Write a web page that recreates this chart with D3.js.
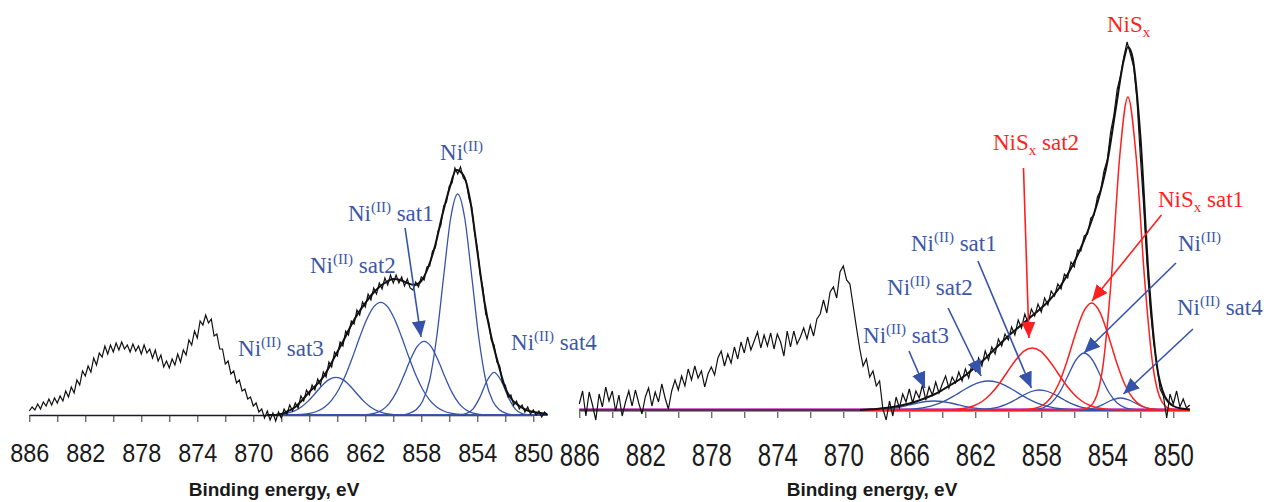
<!DOCTYPE html>
<html>
<head>
<meta charset="utf-8">
<script src="https://cdn.jsdelivr.net/npm/d3@7"></script>
<style>
  body { margin: 0; background: #fff; }
  svg { display: block; }
</style>
</head>
<body>
<svg id="chart" width="1268" height="502"></svg>
<script>
// ---- data (binding energy in eV, intensity in arbitrary units) ----

// raw spectra are sampled every 0.2 eV from 886.0 down to 849.0
const rawEnergy = d3.range(0, 186).map(i => +(886 - i * 0.2).toFixed(1));

const leftRaw = [
  0.4, 0.8, 0.5, 1.1, 0.6, 1.3, 0.9, 1.6, 1.0, 1.7,
  1.2, 1.9, 1.4, 2.4, 1.8, 2.8, 2.2, 3.5, 3.0, 4.4,
  3.9, 4.9, 4.3, 5.7, 5.0, 6.2, 5.8, 6.9, 6.1, 7.0,
  6.3, 7.2, 6.5, 7.3, 6.6, 7.0, 6.3, 7.1, 6.4, 6.9,
  6.1, 7.0, 6.2, 6.6, 5.7, 6.5, 5.4, 6.0, 4.8, 5.4,
  4.7, 5.6, 5.0, 6.1, 5.3, 6.5, 6.0, 7.5, 7.0, 8.4,
  7.7, 9.4, 9.0, 10.0, 9.2, 9.6, 7.9, 8.1, 6.6, 6.6,
  5.1, 5.4, 4.1, 4.4, 3.2, 3.5, 2.4, 2.6, 1.6, 1.8,
  0.9, 1.2, 0.3, 0.6, -0.3, 0.4, -0.5, 0.2, -0.6, 0.3,
  -0.3, 0.6, 0.1, 1.0, 0.4, 1.2, 0.7, 1.9, 1.4, 2.5,
  2.0, 3.0, 2.5, 3.6, 3.0, 4.3, 3.8, 5.3, 4.8, 6.3,
  5.9, 7.3, 6.9, 8.4, 8.0, 9.4, 9.1, 10.5, 10.0, 11.3,
  10.8, 12.1, 11.5, 12.7, 12.1, 13.2, 12.6, 13.7, 13.0, 14.0,
  13.2, 14.0, 13.2, 13.8, 12.9, 13.6, 12.7, 12.5, 13.3, 12.8,
  13.8, 13.5, 14.8, 14.9, 16.4, 16.7, 18.4, 19.0, 20.9, 21.3,
  22.9, 23.2, 24.7, 24.1, 24.8, 23.7, 23.4, 21.7, 20.8, 18.3,
  16.7, 14.1, 12.7, 10.1, 9.4, 7.5, 7.0, 5.3, 4.9, 3.2,
  3.0, 1.8, 2.0, 1.0, 1.4, 0.6, 1.0, 0.3, 0.8, 0.1,
  0.5, 0.0, 0.4, -0.2, 0.3, 0.0
];

const rightRaw = [
  0.6, 1.9, -0.6, 1.8, 0.5, -1.0, 1.6, 0.3, 2.3, 0.9,
  1.9, -0.1, 1.5, -0.6, 0.8, 1.9, 0.4, 2.0, 0.7, -0.4,
  1.3, 2.2, 0.4, 1.8, 0.8, 2.6, 1.2, 0.1, 1.9, 3.0,
  2.0, 3.4, 2.4, 4.1, 3.0, 4.4, 3.2, 3.9, 2.3, 3.6,
  4.3, 3.5, 5.2, 5.9, 4.4, 5.6, 4.7, 6.3, 5.1, 6.8,
  5.7, 7.3, 6.0, 6.9, 7.8, 6.2, 7.5, 6.4, 7.7, 6.1,
  7.6, 6.8, 5.4, 7.9, 6.3, 7.9, 6.6, 7.3, 8.2, 7.1,
  8.5, 7.4, 9.1, 9.6, 11.0, 9.7, 11.8, 12.3, 11.2, 13.8,
  14.4, 13.0, 12.6, 10.4, 8.2, 6.1, 4.4, 5.1, 3.3, 3.9,
  2.4, 2.9, 0.1, -1.0, 0.9, -0.6, 1.3, 0.2, 1.6, 0.8,
  2.1, 0.7, 1.9, 1.2, 2.5, 1.0, 2.3, 1.5, 2.8, 1.7,
  2.6, 3.4, 2.2, 3.3, 2.7, 3.8, 2.9, 4.1, 3.2, 4.6,
  3.9, 5.2, 4.4, 5.9, 5.0, 6.3, 5.6, 7.1, 6.4, 7.6,
  7.0, 8.3, 7.5, 9.0, 8.2, 9.6, 8.7, 10.1, 9.4, 10.6,
  9.8, 11.2, 10.5, 11.9, 11.4, 12.6, 12.1, 13.6, 13.2, 14.8,
  14.3, 16.0, 15.9, 17.4, 17.6, 19.2, 19.5, 21.3, 22.0, 23.9,
  25.0, 27.8, 29.5, 32.1, 33.4, 35.3, 36.8, 35.6, 34.3, 31.0,
  25.4, 20.5, 14.8, 10.2, 6.9, 4.6, 2.1, 1.4, -0.8, 1.6,
  0.6, 1.9, 0.3, 1.1, 0.2, 0.5
];

// fit envelopes
const leftFitE = d3.range(0, 41).map(i => 869 - i * 0.5);
const leftEnvelope = [
  0.0, 0.0, 0.1, 0.4, 0.8, 1.5, 2.3, 3.0, 3.8, 5.0,
  6.3, 7.6, 9.0, 10.2, 11.2, 12.1, 12.8, 13.3, 13.6, 13.5,
  13.2, 13.0, 13.4, 14.8, 17.0, 20.0, 22.6, 24.5, 24.0, 21.4,
  16.4, 11.4, 7.8, 5.1, 2.7, 1.5, 0.9, 0.5, 0.3, 0.2, 0.1
];
const rightFitE = [869, 868.5, 868, 867.5, 867, 866.5, 866, 865.5, 865, 864.5,
  864, 863.5, 863, 862.5, 862, 861.5, 861, 860.5, 860, 859.5,
  859, 858.5, 858, 857.5, 857, 856.5, 856, 855.5, 855, 854.5,
  854, 853.5, 853, 852.75, 852.5, 852, 851.5, 851, 850.5, 850, 849.5, 849];
const rightEnvelope = [0.0, 0.05, 0.1, 0.2, 0.3, 0.45, 0.65, 0.9, 1.2, 1.55,
  2.0, 2.5, 3.0, 3.6, 4.3, 5.0, 5.8, 6.6, 7.4, 8.1,
  8.8, 9.5, 10.2, 11.0, 12.0, 13.3, 14.8, 16.6, 18.7, 21.3,
  24.8, 30.0, 35.0, 36.3, 35.5, 27.5, 13.5, 4.5, 1.3, 0.4, 0.15, 0.05];

// background under the right spectrum
const rightBackground = [[886, 0], [849, 0]];

// fitted components, [energy, intensity]
const leftNi = [[869,0],[859.4,0],[858.9,0.15],[858.4,0.5],[857.9,1.4],[857.4,3.5],[856.9,7.8],[856.4,13.9],[855.9,19.7],[855.4,22.1],[854.9,19.7],[854.4,13.9],[853.9,7.8],[853.4,3.5],[852.9,1.4],[852.4,0.5],[851.9,0.15],[851.4,0],[849,0]];
const leftSat1 = [[869,0],[862.3,0],[861.8,0.06],[861.3,0.19],[860.8,0.5],[860.3,1.14],[859.8,2.24],[859.3,3.77],[858.8,5.47],[858.3,6.84],[857.8,7.37],[857.3,6.84],[856.8,5.47],[856.3,3.77],[855.8,2.24],[855.3,1.14],[854.8,0.5],[854.3,0.19],[853.8,0.06],[853.3,0],[849,0]];
const leftSat2 = [[869,0],[867.4,0],[866.9,0.03],[866.4,0.08],[865.9,0.18],[865.4,0.4],[864.9,0.8],[864.4,1.49],[863.9,2.55],[863.4,4.02],[862.9,5.83],[862.4,7.78],[861.9,9.55],[861.4,10.81],[860.9,11.27],[860.4,10.81],[859.9,9.55],[859.4,7.78],[858.9,5.83],[858.4,4.02],[857.9,2.55],[857.4,1.49],[856.9,0.8],[856.4,0.4],[855.9,0.18],[855.4,0.08],[854.9,0.03],[854.4,0],[849,0]];
const leftSat3 = [[869,0],[868.6,0.02],[868.1,0.06],[867.6,0.17],[867.1,0.38],[866.6,0.77],[866.1,1.36],[865.6,2.13],[865.1,2.92],[864.6,3.54],[864.1,3.77],[863.6,3.54],[863.1,2.92],[862.6,2.13],[862.1,1.36],[861.6,0.77],[861.1,0.38],[860.6,0.17],[860.1,0.06],[859.6,0.02],[859.1,0],[849,0]];
const leftSat4 = [[869,0],[855.8,0],[855.3,0.02],[854.8,0.14],[854.3,0.62],[853.8,1.81],[853.3,3.45],[852.8,4.27],[852.3,3.45],[851.8,1.81],[851.3,0.62],[850.8,0.14],[850.3,0.02],[849.8,0],[849,0]];

const rightNiSx = [[869,0],[856.25,0],[855.75,0.02],[855.25,0.15],[854.75,1.02],[854.25,4.57],[853.75,13.3],[853.25,25.3],[852.75,31.3],[852.25,25.3],[851.75,13.3],[851.25,4.57],[850.75,1.02],[850.25,0.15],[849.75,0.02],[849.25,0],[849,0]];
const rightNiSxSat1 = [[869,0],[859.45,0],[858.95,0.04],[858.45,0.14],[857.95,0.44],[857.45,1.17],[856.95,2.6],[856.45,4.83],[855.95,7.51],[855.45,9.79],[854.95,10.7],[854.45,9.79],[853.95,7.51],[853.45,4.83],[852.95,2.6],[852.45,1.17],[851.95,0.44],[851.45,0.14],[850.95,0.04],[850.45,0],[849,0]];
const rightNiSxSat2 = [[869,0],[864.05,0],[863.55,0.03],[863.05,0.08],[862.55,0.2],[862.05,0.45],[861.55,0.9],[861.05,1.63],[860.55,2.63],[860.05,3.83],[859.55,5.0],[859.05,5.88],[858.55,6.2],[858.05,5.88],[857.55,5.0],[857.05,3.83],[856.55,2.63],[856.05,1.63],[855.55,0.9],[855.05,0.45],[854.55,0.2],[854.05,0.08],[853.55,0.03],[853.05,0],[849,0]];
const rightNi = [[869,0],[859.4,0],[858.9,0.01],[858.4,0.05],[857.9,0.22],[857.4,0.7],[856.9,1.75],[856.4,3.38],[855.9,5.0],[855.4,5.7],[854.9,5.0],[854.4,3.38],[853.9,1.75],[853.4,0.7],[852.9,0.22],[852.4,0.05],[851.9,0.01],[851.4,0],[849,0]];
const rightSat1 = [[869,0],[862.6,0],[862.1,0.01],[861.6,0.05],[861.1,0.13],[860.6,0.29],[860.1,0.58],[859.6,1.0],[859.1,1.47],[858.6,1.85],[858.1,2.0],[857.6,1.85],[857.1,1.47],[856.6,1.0],[856.1,0.58],[855.6,0.29],[855.1,0.13],[854.6,0.05],[854.1,0.01],[853.6,0],[849,0]];
const rightSat2 = [[869,0],[867.2,0],[866.7,0.02],[866.2,0.05],[865.7,0.1],[865.2,0.21],[864.7,0.38],[864.2,0.66],[863.7,1.03],[863.2,1.5],[862.7,2.0],[862.2,2.46],[861.7,2.78],[861.2,2.9],[860.7,2.78],[860.2,2.46],[859.7,2.0],[859.2,1.5],[858.7,1.03],[858.2,0.66],[857.7,0.38],[857.2,0.21],[856.7,0.1],[856.2,0.05],[855.7,0.02],[855.2,0],[849,0]];
const rightSat3 = [[869,0],[868.5,0.01],[868,0.04],[867.5,0.09],[867,0.18],[866.5,0.32],[866,0.51],[865.5,0.7],[865,0.85],[864.5,0.9],[864,0.85],[863.5,0.7],[863,0.51],[862.5,0.32],[862,0.18],[861.5,0.09],[861,0.04],[860.5,0.01],[860,0],[849,0]];
const rightSat4 = [[869,0],[856.2,0],[855.7,0.01],[855.2,0.075],[854.7,0.25],[854.2,0.6],[853.7,1.01],[853.2,1.2],[852.7,1.01],[852.2,0.6],[851.7,0.25],[851.2,0.075],[850.7,0.01],[850.2,0],[849,0]];

// axis ticks
const tickValues = d3.range(886, 849, -2);
const tickLabels = d3.range(886, 849, -4);

// peak labels: text anchor (energy, intensity), optional arrow tail -> head
const leftNotes = [
  { name: 'Ni(II)', e: 856.66, i: 25.5 },
  { name: 'Ni(II) sat1', e: 863.24, i: 19.4, arrow: [[859.16, 18.7], [858.02, 7.8]] },
  { name: 'Ni(II) sat2', e: 865.95, i: 14.2 },
  { name: 'Ni(II) sat3', e: 871.09, i: 5.9 },
  { name: 'Ni(II) sat4', e: 851.59, i: 6.5 }
];
const rightNotes = [
  { name: 'NiSx', e: 854.02, i: 37.8, red: true },
  { name: 'NiSx sat2', e: 860.93, i: 26.0, red: true, arrow: [[859.08, 24.2], [858.75, 7.2]] },
  { name: 'NiSx sat1', e: 850.93, i: 20.3, red: true, arrow: [[850.72, 19.5], [854.93, 10.9]] },
  { name: 'Ni(II)', e: 849.72, i: 15.9, arrow: [[849.84, 14.7], [855.41, 5.7]] },
  { name: 'Ni(II) sat4', e: 849.78, i: 9.5, arrow: [[848.81, 8.1], [853.02, 1.6]] },
  { name: 'Ni(II) sat1', e: 865.9, i: 15.9, arrow: [[861.84, 14.9], [858.6, 2.2]] },
  { name: 'Ni(II) sat2', e: 867.35, i: 11.5, arrow: [[863.65, 10.2], [861.65, 3.4]] },
  { name: 'Ni(II) sat3', e: 868.8, i: 6.7, arrow: [[866.02, 5.9], [865.05, 2.2]] }
];

// ---- drawing ----
const BLUE = '#3553a8';
const BLUE_TEXT = '#3d57a6';
const RED = '#ff1f1f';

const svg = d3.select('#chart');

const leftX = d3.scaleLinear().domain([886, 850]).range([29.3, 533.3]);
const leftY = d3.scaleLinear().domain([0, 25]).range([415, 165]);
const rightX = d3.scaleLinear().domain([886, 850]).range([579.3, 1173.3]);
const rightY = d3.scaleLinear().domain([0, 40]).range([410, 10]);

// arrow heads
const defs = svg.append('defs');
[['headBlue', BLUE], ['headRed', RED]].forEach(([id, c]) => {
  defs.append('marker')
    .attr('id', id)
    .attr('markerUnits', 'userSpaceOnUse')
    .attr('viewBox', '0 0 16 14')
    .attr('markerWidth', 16).attr('markerHeight', 14)
    .attr('refX', 16).attr('refY', 7)
    .attr('orient', 'auto')
    .append('path')
    .attr('d', 'M0,0 L16,7 L0,14 Z')
    .attr('fill', c);
});

function pairLine(xs, ys) {
  return d3.line().x(d => xs(d[0])).y(d => ys(d[1])).curve(d3.curveMonotoneX);
}

function drawAxis(xs, y0, tickLen, fontSize, squeeze, labelDy, titleX, titleY, titleSize) {
  const axis = d3.axisBottom(xs)
    .tickValues(tickValues)
    .tickSize(tickLen)
    .tickSizeOuter(0)
    .tickFormat(v => tickLabels.includes(v) ? v : '');
  const g = svg.append('g')
    .attr('transform', `translate(0,${y0})`)
    .call(axis);
  g.select('.domain').attr('stroke', '#1b1b2e').attr('stroke-width', 1.6);
  g.selectAll('.tick line').attr('stroke', '#333').attr('stroke-width', 1);
  g.selectAll('.tick text')
    .attr('y', labelDy).attr('dy', 0)
    .attr('transform', `scale(${squeeze},1)`)
    .attr('fill', '#1a1a1a')
    .style('font-family', '"Liberation Sans", Arial, sans-serif')
    .style('font-size', fontSize + 'px');

  svg.append('text')
    .attr('x', titleX).attr('y', titleY)
    .attr('text-anchor', 'middle')
    .attr('fill', '#1a1a1a')
    .style('font-family', '"Liberation Sans", Arial, sans-serif')
    .style('font-weight', 'bold')
    .style('font-size', titleSize + 'px')
    .text('Binding energy, eV');
}

function drawNote(xs, ys, d) {
  const color = d.red ? RED : BLUE;
  if (d.arrow) {
    svg.append('line')
      .attr('x1', xs(d.arrow[0][0])).attr('y1', ys(d.arrow[0][1]))
      .attr('x2', xs(d.arrow[1][0])).attr('y2', ys(d.arrow[1][1]))
      .attr('stroke', color).attr('stroke-width', 1.6)
      .attr('marker-end', d.red ? 'url(#headRed)' : 'url(#headBlue)');
  }
  const t = svg.append('text')
    .attr('x', xs(d.e)).attr('y', ys(d.i))
    .attr('fill', d.red ? RED : BLUE_TEXT)
    .style('font-family', '"Liberation Serif", "Times New Roman", serif')
    .style('font-size', '23px');
  if (d.name.startsWith('Ni(II)')) {
    t.append('tspan').text('Ni');
    t.append('tspan').attr('dy', -9).style('font-size', '15px').text('(II)');
    t.append('tspan').attr('dy', 9).text(d.name.slice(6));
  } else {
    t.append('tspan').text('NiS');
    t.append('tspan').attr('dy', 5).style('font-size', '15px').text('x');
    t.append('tspan').attr('dy', -5).text(d.name.slice(4));
  }
}

// ---- left panel ----
drawAxis(leftX, 415, 7, 26, 0.9, 47, 274, 496, 19);

[leftSat3, leftSat2, leftSat1, leftNi, leftSat4].forEach(c => {
  svg.append('path').datum(c)
    .attr('d', pairLine(leftX, leftY))
    .attr('fill', 'none').attr('stroke', BLUE).attr('stroke-width', 1.3);
});

svg.append('path')
  .datum(rawEnergy.map((e, k) => [e, leftRaw[k]]))
  .attr('d', d3.line().x(d => leftX(d[0])).y(d => leftY(d[1])))
  .attr('fill', 'none').attr('stroke', '#111').attr('stroke-width', 1.2);

svg.append('path')
  .datum(leftFitE.map((e, k) => [e, leftEnvelope[k]]))
  .attr('d', pairLine(leftX, leftY))
  .attr('fill', 'none').attr('stroke', '#111').attr('stroke-width', 2);

leftNotes.forEach(d => drawNote(leftX, leftY, d));

// ---- right panel ----
drawAxis(rightX, 410, 8, 32, 0.75, 56, 872, 496, 19);

svg.append('path').datum(rightBackground)
  .attr('d', pairLine(rightX, rightY))
  .attr('fill', 'none').attr('stroke', '#d36ccf').attr('stroke-width', 4);
svg.append('path').datum(rightBackground)
  .attr('d', pairLine(rightX, rightY))
  .attr('fill', 'none').attr('stroke', '#222').attr('stroke-width', 1.3);

[rightSat3, rightSat2, rightSat1, rightNi, rightSat4].forEach(c => {
  svg.append('path').datum(c)
    .attr('d', pairLine(rightX, rightY))
    .attr('fill', 'none').attr('stroke', BLUE).attr('stroke-width', 1.3);
});
[rightNiSxSat2, rightNiSxSat1, rightNiSx].forEach(c => {
  svg.append('path').datum(c)
    .attr('d', pairLine(rightX, rightY))
    .attr('fill', 'none').attr('stroke', RED).attr('stroke-width', 1.5);
});

svg.append('path')
  .datum(rawEnergy.map((e, k) => [e, rightRaw[k]]))
  .attr('d', d3.line().x(d => rightX(d[0])).y(d => rightY(d[1])))
  .attr('fill', 'none').attr('stroke', '#111').attr('stroke-width', 1.2);

svg.append('path')
  .datum(rightFitE.map((e, k) => [e, rightEnvelope[k]]))
  .attr('d', pairLine(rightX, rightY))
  .attr('fill', 'none').attr('stroke', '#111').attr('stroke-width', 2);

rightNotes.forEach(d => drawNote(rightX, rightY, d));
</script>
</body>
</html>
